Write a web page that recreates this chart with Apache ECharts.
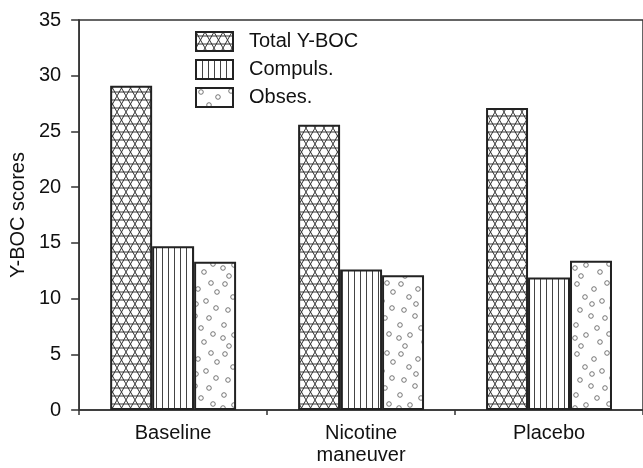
<!DOCTYPE html>
<html><head><meta charset="utf-8">
<script src="https://cdn.jsdelivr.net/npm/echarts@6/dist/echarts.min.js"></script>
<style>html,body{margin:0;padding:0;background:#fff}#c{width:643px;height:468px}</style>
</head><body><div id="c"></div>
<script>
const categories = ['Baseline', 'Nicotine\nmaneuver', 'Placebo'];
const seriesNames = ['Total Y-BOC', 'Compuls.', 'Obses.'];
const totalYBOC = [29.1, 25.6, 27.1];
const compuls = [14.7, 12.6, 11.9];
const obses = [13.3, 12.1, 13.4];
const yTicks = [0, 5, 10, 15, 20, 25, 30, 35];

const FONT = "'Liberation Sans',Arial,sans-serif";

function tile(w, h, draw) {
  const c = document.createElement('canvas');
  c.width = w; c.height = h;
  const g = c.getContext('2d');
  g.fillStyle = '#fff'; g.fillRect(0, 0, w, h);
  draw(g);
  return c;
}
const totalPat = tile(9, 16, g => {
  g.strokeStyle = '#333'; g.lineWidth = 1;
  g.beginPath();
  g.moveTo(0, 0); g.lineTo(9, 16);
  g.moveTo(9, 0); g.lineTo(0, 16);
  g.moveTo(0, 4); g.lineTo(9, 4);
  g.moveTo(0, 12); g.lineTo(9, 12);
  g.stroke();
});
const compPat = tile(6, 4, g => {
  g.strokeStyle = '#444'; g.lineWidth = 1;
  g.beginPath(); g.moveTo(0.5, 0); g.lineTo(0.5, 4); g.stroke();
});
const dotPos = [[5,4],[22,9],[35,3],[13,17],[30,21],[40,28],[8,30],[19,36],[33,38],[4,45],[25,48],[14,55],[37,54],[28,62],[9,66],[20,24],[3,58],[41,12]];
const obsPat = tile(44, 70, g => {
  g.strokeStyle = '#555'; g.lineWidth = 0.8;
  dotPos.forEach(p => { g.beginPath(); g.arc(p[0], p[1], 2.3, 0, Math.PI * 2); g.stroke(); });
});

const pats = [totalPat, compPat, obsPat];
const dataSets = [totalYBOC, compuls, obses];

const chart = echarts.init(document.getElementById('c'));
chart.setOption({
  animation: false,
  backgroundColor: '#fff',
  grid: { left: 79, top: 20, width: 570, height: 390, show: true, borderColor: '#333', borderWidth: 1.5, backgroundColor: 'transparent' },
  legend: {
    orient: 'vertical', left: 195, top: 31, padding: 0, itemWidth: 37, itemHeight: 19, itemGap: 7,
    icon: 'rect',
    textStyle: { fontFamily: FONT, fontSize: 20, color: '#111', padding: [0, 0, 0, 11] },
    data: seriesNames
  },
  xAxis: {
    type: 'category', data: categories,
    axisLine: { lineStyle: { color: '#333', width: 1.5 } },
    axisTick: { show: true, length: 5, lineStyle: { color: '#333', width: 1.5 } },
    axisLabel: { fontFamily: FONT, fontSize: 20, color: '#111', margin: 12, lineHeight: 22 }
  },
  yAxis: {
    type: 'value', min: 0, max: 35, interval: 5,
    name: 'Y-BOC scores', nameLocation: 'middle', nameGap: 50,
    nameTextStyle: { fontFamily: FONT, fontSize: 20, color: '#111' },
    splitLine: { show: false },
    axisLine: { show: true, lineStyle: { color: '#333', width: 1.5 } },
    axisTick: { show: true, length: 8, lineStyle: { color: '#333', width: 1.5 } },
    axisLabel: { fontFamily: FONT, fontSize: 20, color: '#111', margin: 18,
      formatter: v => yTicks.includes(v) ? String(v) : '' }
  },
  series: seriesNames.map((n, i) => ({
    name: n, type: 'bar', data: dataSets[i],
    barGap: '0%', barCategoryGap: '33%',
    itemStyle: { color: { image: pats[i], repeat: 'repeat' }, borderColor: '#222', borderWidth: 2 }
  }))
});
</script></body></html>
